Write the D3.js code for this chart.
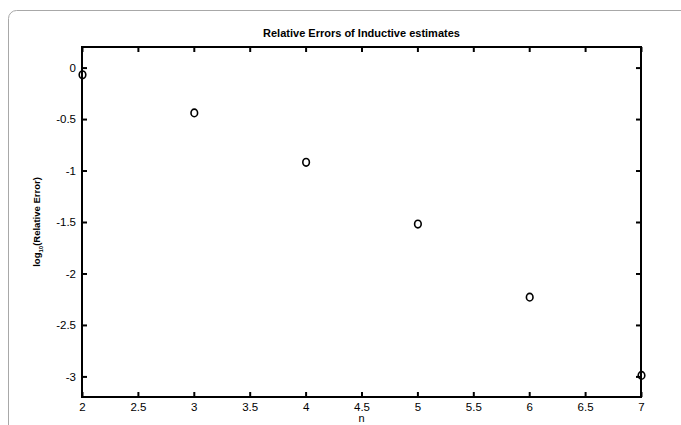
<!DOCTYPE html>
<html>
<head>
<meta charset="utf-8">
<script src="https://cdn.jsdelivr.net/npm/d3@7"></script>
<style>
  body { margin: 0; background: #fff; }
  svg { font-family: Arial, "Liberation Sans", sans-serif; }
</style>
</head>
<body>
<div id="chart"></div>
<script>
var nValues = [2, 3, 4, 5, 6, 7];
var logErrors = [-0.07, -0.44, -0.92, -1.52, -2.23, -2.99];
var xTicks = [2, 2.5, 3, 3.5, 4, 4.5, 5, 5.5, 6, 6.5, 7];
var yTicks = [0, -0.5, -1, -1.5, -2, -2.5, -3];

var width = 681, height = 425;
var plotLeft = 82, plotRight = 641, plotTop = 47, plotBottom = 397;

var svg = d3.select('#chart').append('svg')
  .attr('width', width)
  .attr('height', height);

// card border
svg.append('rect')
  .attr('x', 8.5).attr('y', 10.5)
  .attr('width', 700).attr('height', 440)
  .attr('rx', 8).attr('ry', 8)
  .attr('fill', 'none')
  .attr('stroke', '#a8a8a8')
  .attr('stroke-width', 1);

var x = d3.scaleLinear().domain([2, 7]).range([plotLeft, plotRight]);
var y = d3.scaleLinear().domain([-3.2, 0.2]).range([plotBottom, plotTop]);

// plain hyphen minus like the original
var fmt = function(d) { return String(d); };

var axisStyle = function(g) {
  g.select('.domain').remove();
  g.selectAll('.tick line').attr('stroke', '#000').attr('stroke-width', 2);
  g.selectAll('.tick text').attr('fill', '#000').style('font-size', '11.5px');
};

// bottom & left axes with inward ticks
svg.append('g')
  .attr('transform', 'translate(0,' + plotBottom + ')')
  .call(d3.axisBottom(x).tickValues(xTicks).tickSize(-5).tickPadding(6).tickFormat(fmt))
  .call(axisStyle);

svg.append('g')
  .attr('transform', 'translate(' + plotLeft + ',0)')
  .call(d3.axisLeft(y).tickValues(yTicks).tickSize(-5).tickPadding(6).tickFormat(fmt))
  .call(axisStyle);

// top & right mirrored ticks
svg.append('g')
  .attr('transform', 'translate(0,' + plotTop + ')')
  .call(d3.axisTop(x).tickValues(xTicks).tickSize(-5).tickFormat(''))
  .call(axisStyle);

svg.append('g')
  .attr('transform', 'translate(' + plotRight + ',0)')
  .call(d3.axisRight(y).tickValues(yTicks).tickSize(-5).tickFormat(''))
  .call(axisStyle);

// box
svg.append('rect')
  .attr('x', plotLeft).attr('y', plotTop)
  .attr('width', plotRight - plotLeft).attr('height', plotBottom - plotTop)
  .attr('fill', 'none')
  .attr('stroke', '#000')
  .attr('stroke-width', 2);

// points
svg.selectAll('ellipse.pt')
  .data(nValues)
  .enter()
  .append('ellipse')
    .attr('class', 'pt')
    .attr('cx', function(d) { return x(d) + 0.5; })
    .attr('cy', function(d, i) { return y(logErrors[i]); })
    .attr('rx', 3.3)
    .attr('ry', 3.8)
    .attr('fill', 'none')
    .attr('stroke', '#000')
    .attr('stroke-width', 1.6);

// title
svg.append('text')
  .attr('x', (plotLeft + plotRight) / 2)
  .attr('y', 37)
  .attr('text-anchor', 'middle')
  .style('font-size', '11px')
  .style('font-weight', 'bold')
  .text('Relative Errors of Inductive estimates');

// x label
svg.append('text')
  .attr('x', (plotLeft + plotRight) / 2)
  .attr('y', 422)
  .attr('text-anchor', 'middle')
  .style('font-size', '11px')
  .text('n');

// y label
var yl = svg.append('text')
  .attr('transform', 'translate(40,' + ((plotTop + plotBottom) / 2) + ') rotate(-90)')
  .attr('text-anchor', 'middle')
  .style('font-size', '9.5px')
  .style('font-weight', 'bold');
yl.append('tspan').text('log');
yl.append('tspan').attr('dy', 3).style('font-size', '6px').text('10');
yl.append('tspan').attr('dy', -3).text('(Relative Error)');
</script>
</body>
</html>
